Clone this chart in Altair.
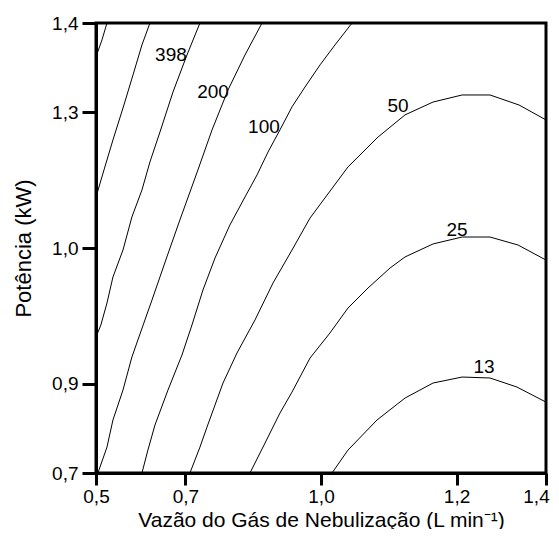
import json
import altair as alt
import pandas as pd

# Coded design levels (central composite design, alpha ~ 1.66)
A = 1.66
x_ticks = [-A, -1, 0, 1, A]
x_tick_labels = ["0,5", "0,7", "1,0", "1,2", "1,4"]
y_ticks = [-A, -1, 0, 1, A]
y_tick_labels = ["0,7", "0,9", "1,0", "1,3", "1,4"]

# Contour lines (coded units)
c1_x = [-1.579, -1.616, -1.66]
c1_y = [1.66, 1.535, 1.41]

c2_x = [-1.262, -1.321, -1.387, -1.454, -1.535, -1.601, -1.66]
c2_y = [1.66, 1.498, 1.277, 1.055, 0.797, 0.576, 0.376]

c398_x = [-0.893, -0.989, -1.092, -1.188, -1.262, -1.321, -1.395, -1.461, -1.535, -1.579, -1.624, -1.66]
c398_y = [1.66, 1.424, 1.151, 0.856, 0.635, 0.428, 0.229, -0.015, -0.214, -0.406, -0.568, -0.657]

c200_x = [-0.435, -0.561, -0.686, -0.804, -0.908, -1.041, -1.137, -1.247, -1.299, -1.395, -1.461, -1.535, -1.579, -1.646]
c200_y = [1.66, 1.424, 1.166, 0.871, 0.576, 0.207, -0.066, -0.384, -0.531, -0.804, -1.048, -1.269, -1.469, -1.66]

c100_x = [0.229, 0.103, -0.007, -0.118, -0.214, -0.303, -0.391, -0.472, -0.561, -0.672, -0.782, -0.871, -0.952, -1.026, -1.129, -1.225, -1.277, -1.321]
c100_y = [1.66, 1.498, 1.351, 1.188, 1.041, 0.871, 0.708, 0.539, 0.376, 0.170, -0.074, -0.310, -0.568, -0.790, -1.048, -1.306, -1.491, -1.66]

c50_x = [-0.967, -0.893, -0.841, -0.723, -0.620, -0.487, -0.354, -0.214, -0.081, 0.199, 0.421, 0.620, 0.827, 1.041, 1.247, 1.461, 1.66]
c50_y = [-1.66, -1.469, -1.321, -0.996, -0.775, -0.531, -0.258, -0.015, 0.221, 0.598, 0.819, 0.982, 1.077, 1.129, 1.129, 1.055, 0.945]

c25_x = [-0.524, -0.413, -0.303, -0.214, -0.081, 0.066, 0.199, 0.347, 0.509, 0.620, 0.827, 1.041, 1.247, 1.454, 1.66]
c25_y = [-1.66, -1.439, -1.218, -1.063, -0.812, -0.627, -0.443, -0.295, -0.148, -0.066, 0.030, 0.081, 0.081, 0.022, -0.089]

c13_x = [0.081, 0.199, 0.413, 0.620, 0.827, 1.041, 1.247, 1.446, 1.66]
c13_y = [-1.66, -1.491, -1.269, -1.107, -0.996, -0.952, -0.959, -1.026, -1.137]

label_text = ["398", "200", "100", "50", "25", "13"]
label_x = [-1.107, -0.797, -0.421, 0.568, 1.004, 1.203]
label_y = [1.424, 1.151, 0.893, 1.048, 0.133, -0.878]

contours = [
    ("c1", c1_x, c1_y), ("c2", c2_x, c2_y), ("398", c398_x, c398_y),
    ("200", c200_x, c200_y), ("100", c100_x, c100_y), ("50", c50_x, c50_y),
    ("25", c25_x, c25_y), ("13", c13_x, c13_y),
]
rows = []
for name, xs, ys in contours:
    for i, (xv, yv) in enumerate(zip(xs, ys)):
        rows.append({"line": name, "i": i, "x": xv, "y": yv})
df = pd.DataFrame(rows)
lab = pd.DataFrame({"x": label_x, "y": label_y, "t": label_text})

FONT = "Liberation Sans"
x_expr = f"{json.dumps(x_tick_labels)}[indexof({json.dumps(x_ticks)}, datum.value)]"
y_expr = f"{json.dumps(y_tick_labels)}[indexof({json.dumps(y_ticks)}, datum.value)]"

xscale = alt.Scale(domain=[-A, A], nice=False, zero=False)
yscale = alt.Scale(domain=[-A, A], nice=False, zero=False)

xaxis = alt.Axis(values=x_ticks, labelExpr=x_expr, title="Vazão do Gás de Nebulização (L min⁻¹)",
                 grid=False, tickSize=12, tickWidth=3, domainWidth=3, domainColor="black",
                 tickColor="black", labelFlush=False, labelPadding=2, titlePadding=3,
                 labelOffset={"condition": {"test": "datum.value > 1.5", "value": -10}, "value": 0},
                 labelFontSize=19, titleFontSize=21, labelFont=FONT, titleFont=FONT,
                 labelColor="black", titleColor="black", titleFontWeight="normal")
yaxis = alt.Axis(values=y_ticks, labelExpr=y_expr, title="Potência (kW)",
                 grid=False, tickSize=14, tickWidth=3, domainWidth=3, domainColor="black",
                 tickColor="black", labelFlush=False, labelPadding=4, titlePadding=16,
                 labelFontSize=19, titleFontSize=22, labelFont=FONT, titleFont=FONT,
                 labelColor="black", titleColor="black", titleFontWeight="normal")

lines = alt.Chart(df).mark_line(color="black", strokeWidth=1, clip=True).encode(
    x=alt.X("x:Q", scale=xscale, axis=xaxis),
    y=alt.Y("y:Q", scale=yscale, axis=yaxis),
    detail="line:N",
    order="i:Q",
)
texts = alt.Chart(lab).mark_text(font=FONT, fontSize=19, color="black").encode(
    x=alt.X("x:Q", scale=xscale),
    y=alt.Y("y:Q", scale=yscale),
    text="t:N",
)

chart = (lines + texts).properties(
    width=450, height=450,
    autosize=alt.AutoSizeParams(type="none"),
    padding={"left": 88, "top": 15, "right": 5, "bottom": 56},
).configure(
    background="white",
    view=alt.ViewConfig(stroke="black", strokeWidth=3),
)

chart.save("out.html", embed_options={"renderer": "svg", "actions": False})
